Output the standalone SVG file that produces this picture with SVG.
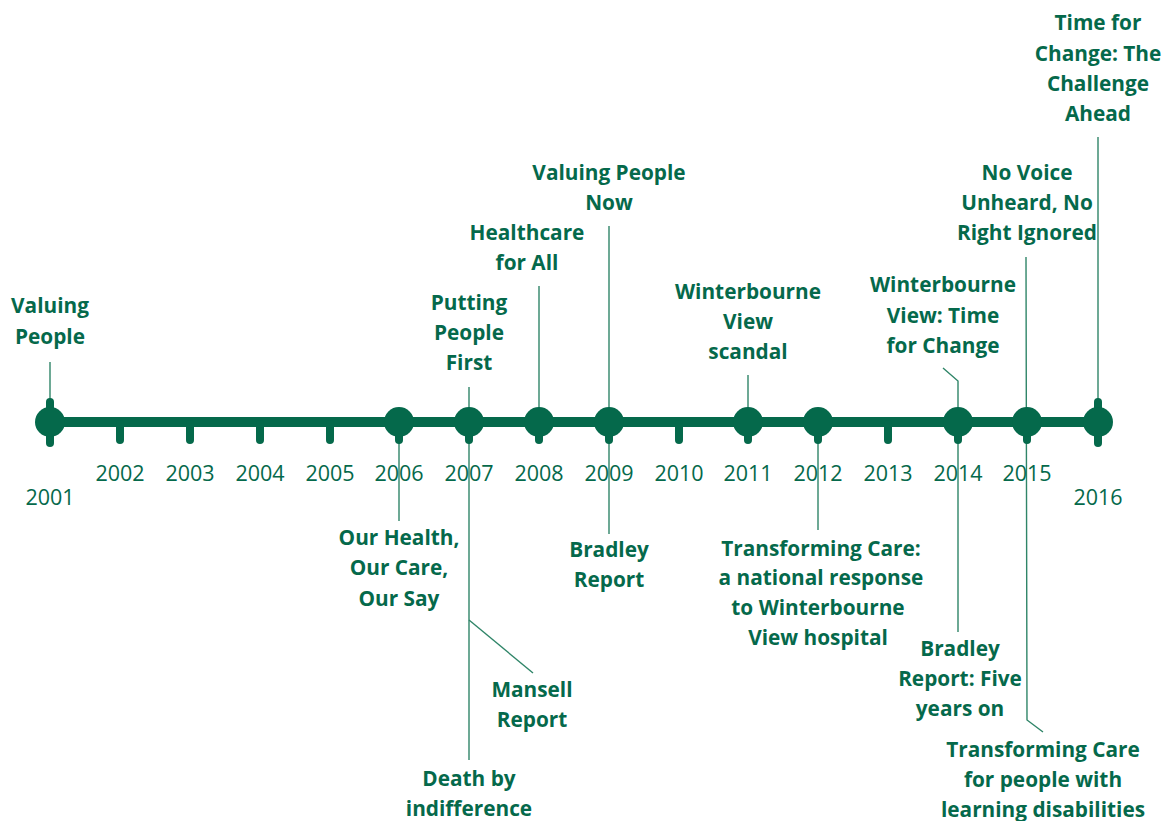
<svg xmlns="http://www.w3.org/2000/svg" width="1172" height="821" viewBox="0 0 1172 821">
  <style>
    .lbl { font-family: "Open Sans", "Noto Sans", "Liberation Sans", sans-serif; font-weight: bold; font-size: 20.8px; fill: #05694b; text-anchor: middle; }
    .yr { font-family: "Open Sans", "Liberation Sans", sans-serif; font-size: 21.5px; fill: #05694b; text-anchor: middle; }
    .lead { stroke: #2f8568; stroke-width: 1.4; fill: none; }
    .axis { stroke: #05694b; stroke-width: 10; }
    .tick { stroke: #05694b; stroke-width: 8; stroke-linecap: round; }
    .dot { fill: #05694b; }
  </style>
  <rect width="1172" height="821" fill="#ffffff"/>

  <!-- clipped heading fragments at the top edge -->
  <text class="yr" x="136" y="-12" style="font-size:22px">(</text>
  <text class="yr" x="330" y="-12" style="font-size:22px">)</text>

  <!-- leader lines -->
  <g id="connectors">
    <line class="lead" x1="50" y1="362" x2="50" y2="405"/>
    <line class="lead" x1="399" y1="435" x2="399" y2="521"/>
    <line class="lead" x1="469" y1="387" x2="469" y2="760"/>
    <polyline class="lead" points="469,620 533,673"/>
    <line class="lead" x1="539" y1="286" x2="539" y2="410"/>
    <line class="lead" x1="609" y1="226" x2="609" y2="534"/>
    <line class="lead" x1="748" y1="375" x2="748" y2="410"/>
    <line class="lead" x1="818" y1="435" x2="818" y2="530"/>
    <polyline class="lead" points="943,368 958,381 958,632"/>
    <polyline class="lead" points="1026,257 1027,720 1043,732"/>
    <line class="lead" x1="1098" y1="137" x2="1098" y2="400"/>
  </g>

  <!-- axis with year ticks -->
  <g id="axis">
    <line class="axis" x1="50" y1="422" x2="1098" y2="422"/>
    <line class="tick" x1="120" y1="424" x2="120" y2="440"/>
    <line class="tick" x1="190" y1="424" x2="190" y2="440"/>
    <line class="tick" x1="260" y1="424" x2="260" y2="440"/>
    <line class="tick" x1="330" y1="424" x2="330" y2="440"/>
    <line class="tick" x1="679" y1="424" x2="679" y2="440"/>
    <line class="tick" x1="888" y1="424" x2="888" y2="440"/>
    <text class="yr" x="50" y="505">2001</text>
    <text class="yr" x="120" y="481">2002</text>
    <text class="yr" x="190" y="481">2003</text>
    <text class="yr" x="260" y="481">2004</text>
    <text class="yr" x="330" y="481">2005</text>
    <text class="yr" x="399" y="481">2006</text>
    <text class="yr" x="469" y="481">2007</text>
    <text class="yr" x="539" y="481">2008</text>
    <text class="yr" x="609" y="481">2009</text>
    <text class="yr" x="679" y="481">2010</text>
    <text class="yr" x="748" y="481">2011</text>
    <text class="yr" x="818" y="481">2012</text>
    <text class="yr" x="888" y="481">2013</text>
    <text class="yr" x="958" y="481">2014</text>
    <text class="yr" x="1027" y="481">2015</text>
    <text class="yr" x="1098" y="505">2016</text>
  </g>

  <!-- event markers -->
  <g id="m2001"><line class="tick" x1="50" y1="402" x2="50" y2="443"/><circle class="dot" cx="50" cy="422" r="15"/></g>
  <g id="m2006"><line class="tick" x1="399" y1="424" x2="399" y2="440"/><circle class="dot" cx="399" cy="422" r="15"/></g>
  <g id="m2007"><line class="tick" x1="469" y1="424" x2="469" y2="440"/><circle class="dot" cx="469" cy="422" r="15"/></g>
  <g id="m2008"><line class="tick" x1="539" y1="424" x2="539" y2="440"/><circle class="dot" cx="539" cy="422" r="15"/></g>
  <g id="m2009"><line class="tick" x1="609" y1="424" x2="609" y2="440"/><circle class="dot" cx="609" cy="422" r="15"/></g>
  <g id="m2011"><line class="tick" x1="748" y1="424" x2="748" y2="440"/><circle class="dot" cx="748" cy="422" r="15"/></g>
  <g id="m2012"><line class="tick" x1="818" y1="424" x2="818" y2="440"/><circle class="dot" cx="818" cy="422" r="15"/></g>
  <g id="m2014"><line class="tick" x1="958" y1="424" x2="958" y2="440"/><circle class="dot" cx="958" cy="422" r="15"/></g>
  <g id="m2015"><line class="tick" x1="1027" y1="424" x2="1027" y2="440"/><circle class="dot" cx="1027" cy="422" r="15"/></g>
  <g id="m2016"><line class="tick" x1="1098" y1="402" x2="1098" y2="443"/><circle class="dot" cx="1098" cy="422" r="15"/></g>

  <!-- event labels above the axis -->
  <g id="n-valuing-people">
    <text class="lbl" x="50" y="313">Valuing</text>
    <text class="lbl" x="50" y="344">People</text>
  </g>
  <g id="n-putting-people-first">
    <text class="lbl" x="469" y="310">Putting</text>
    <text class="lbl" x="469" y="340">People</text>
    <text class="lbl" x="469" y="370">First</text>
  </g>
  <g id="n-healthcare-for-all">
    <text class="lbl" x="527" y="240">Healthcare</text>
    <text class="lbl" x="527" y="270">for All</text>
  </g>
  <g id="n-valuing-people-now">
    <text class="lbl" x="609" y="180">Valuing People</text>
    <text class="lbl" x="609" y="210">Now</text>
  </g>
  <g id="n-winterbourne-scandal">
    <text class="lbl" x="748" y="299">Winterbourne</text>
    <text class="lbl" x="748" y="329">View</text>
    <text class="lbl" x="748" y="359">scandal</text>
  </g>
  <g id="n-wv-time-for-change">
    <text class="lbl" x="943" y="292">Winterbourne</text>
    <text class="lbl" x="943" y="323">View: Time</text>
    <text class="lbl" x="943" y="353">for Change</text>
  </g>
  <g id="n-no-voice">
    <text class="lbl" x="1027" y="180">No Voice</text>
    <text class="lbl" x="1027" y="210">Unheard, No</text>
    <text class="lbl" x="1027" y="240">Right Ignored</text>
  </g>
  <g id="n-challenge-ahead">
    <text class="lbl" x="1098" y="30">Time for</text>
    <text class="lbl" x="1098" y="61">Change: The</text>
    <text class="lbl" x="1098" y="91">Challenge</text>
    <text class="lbl" x="1098" y="121">Ahead</text>
  </g>

  <!-- event labels below the axis -->
  <g id="n-our-health">
    <text class="lbl" x="399" y="545">Our Health,</text>
    <text class="lbl" x="399" y="575">Our Care,</text>
    <text class="lbl" x="399" y="606">Our Say</text>
  </g>
  <g id="n-bradley">
    <text class="lbl" x="609" y="557">Bradley</text>
    <text class="lbl" x="609" y="587">Report</text>
  </g>
  <g id="n-transforming-care-national">
    <text class="lbl" x="821" y="556">Transforming Care:</text>
    <text class="lbl" x="821" y="585">a national response</text>
    <text class="lbl" x="818" y="615">to Winterbourne</text>
    <text class="lbl" x="818" y="645">View hospital</text>
  </g>
  <g id="n-mansell">
    <text class="lbl" x="532" y="697">Mansell</text>
    <text class="lbl" x="532" y="727">Report</text>
  </g>
  <g id="n-death-by-indifference">
    <text class="lbl" x="469" y="786">Death by</text>
    <text class="lbl" x="469" y="816">indifference</text>
  </g>
  <g id="n-bradley-five-years">
    <text class="lbl" x="960" y="656">Bradley</text>
    <text class="lbl" x="960" y="686">Report: Five</text>
    <text class="lbl" x="960" y="716">years on</text>
  </g>
  <g id="n-transforming-care-ld">
    <text class="lbl" x="1043" y="757">Transforming Care</text>
    <text class="lbl" x="1043" y="787">for people with</text>
    <text class="lbl" x="1043" y="817">learning disabilities</text>
  </g>
</svg>
